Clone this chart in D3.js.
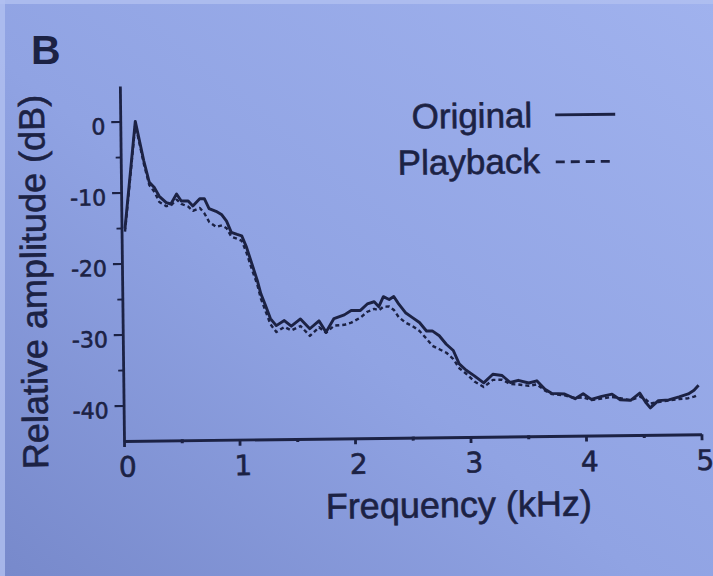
<!DOCTYPE html>
<html>
<head>
<meta charset="utf-8">
<script src="https://cdn.jsdelivr.net/npm/d3@7"></script>
<style>
  html, body { margin: 0; padding: 0; background: #93a6e4; }
  svg { display: block; }
</style>
</head>
<body>
<svg id="chart" width="713" height="576"></svg>
<script>
// ---- data ----
const freqKHz = [
  0.03, 0.13, 0.20, 0.245, 0.29, 0.33, 0.39, 0.43, 0.48, 0.52,
  0.58, 0.62, 0.68, 0.72, 0.76, 0.82, 0.87, 0.91, 0.95, 1.00,
  1.04, 1.08, 1.12, 1.17, 1.20, 1.24, 1.28, 1.33, 1.40, 1.46,
  1.54, 1.62, 1.70, 1.76, 1.83, 1.92, 1.98, 2.06, 2.12, 2.18,
  2.22, 2.26, 2.31, 2.35, 2.39, 2.45, 2.51, 2.57, 2.63, 2.68,
  2.74, 2.80, 2.86, 2.91, 2.97, 3.04, 3.12, 3.20, 3.28, 3.35,
  3.42, 3.51, 3.58, 3.65, 3.71, 3.82, 3.91, 3.98, 4.05, 4.14,
  4.23, 4.30, 4.39, 4.47, 4.52, 4.56, 4.63, 4.72, 4.81, 4.89, 4.94, 4.98
];
const originalDB = [
  -15.1, 0.0, -5.6, -8.6, -9.4, -10.6, -11.5, -11.7, -10.3, -11.3,
  -11.3, -12.0, -11.0, -11.0, -12.4, -12.8, -13.3, -14.2, -15.8, -16.1,
  -16.3, -17.9, -20.0, -22.6, -24.5, -26.2, -28.0, -29.0, -28.3, -29.1,
  -28.1, -29.5, -28.4, -30.0, -28.1, -27.6, -27.0, -27.0, -26.1, -25.8,
  -26.5, -25.1, -25.5, -25.1, -26.1, -27.4, -28.1, -28.8, -30.0, -30.0,
  -30.7, -31.9, -32.8, -34.7, -35.6, -36.4, -37.4, -36.2, -36.4, -37.4,
  -37.1, -37.5, -37.2, -38.4, -39.0, -39.1, -39.8, -39.1, -39.9, -39.5,
  -39.2, -40.0, -40.1, -39.1, -40.4, -41.2, -40.2, -40.1, -39.7, -39.3, -38.8, -38.1
];
const playbackDB = [
  -15.5, -0.4, -6.0, -9.0, -10.0, -11.4, -12.0, -11.9, -11.1, -11.7,
  -12.1, -12.7, -12.3, -13.1, -14.3, -15.0, -14.8, -15.2, -16.4, -16.7,
  -17.0, -18.7, -20.8, -23.2, -25.2, -27.0, -28.8, -29.9, -29.2, -29.7,
  -29.1, -30.5, -29.3, -30.1, -29.1, -29.0, -28.7, -28.0, -27.2, -26.8,
  -27.0, -26.5, -26.5, -27.0, -28.0, -28.8, -29.3, -30.0, -31.1, -32.1,
  -32.6, -33.1, -34.0, -35.3, -36.1, -37.2, -38.0, -37.0, -37.0, -37.6,
  -37.7, -37.9, -37.7, -38.6, -39.1, -39.3, -39.7, -39.6, -40.0, -39.8,
  -39.6, -39.8, -40.1, -39.6, -40.0, -40.6, -40.4, -40.2, -40.0, -39.9, -39.7, -39.4
];
const xTicks = [0, 1, 2, 3, 4, 5];
const xMinorTicks = [0.5, 1.5, 2.5, 3.5, 4.5];
const yTicks = [0, -10, -20, -30, -40];
const yMinorTicks = [-5, -15, -25, -35];
const seriesNames = ["Original", "Playback"];
const panelLetter = "B";
const xTitle = "Frequency (kHz)";
const yTitle = "Relative amplitude (dB)";

// ---- drawing ----
const ink = "#1c2244";
const svg = d3.select("#chart");

const defs = svg.append("defs");
const grad = defs.append("linearGradient").attr("id", "bg")
  .attr("x1", "1").attr("y1", "0").attr("x2", "0").attr("y2", "1");
grad.append("stop").attr("offset", "0%").attr("stop-color", "#a0b2ee");
grad.append("stop").attr("offset", "55%").attr("stop-color", "#90a3e3");
grad.append("stop").attr("offset", "100%").attr("stop-color", "#7789cb");
svg.append("rect").attr("width", 713).attr("height", 576).attr("fill", "url(#bg)");
svg.append("rect").attr("width", 5).attr("height", 576).attr("fill", "#b1c0f0").attr("opacity", 0.8);
svg.append("rect").attr("width", 713).attr("height", 4).attr("fill", "#b1c0f0").attr("opacity", 0.8);

svg.append("text").text(panelLetter)
  .attr("x", 31).attr("y", 64)
  .attr("font-family", "Liberation Sans, Arial, sans-serif")
  .attr("font-weight", "bold").attr("font-size", 41)
  .attr("fill", ink);

const ox = 124, oy = 441;
const g = svg.append("g").attr("transform", `rotate(-0.67 ${ox} ${oy})`);

const x = d3.scaleLinear().domain([0, 5]).range([ox, ox + 577.5]);
const y = d3.scaleLinear().domain([-45, 5]).range([oy, oy - 355]);

function thicken(sel, w) {
  sel.attr("stroke", ink).attr("stroke-width", w).attr("paint-order", "stroke");
}

// x axis
const xAxis = g.append("g").attr("transform", `translate(0,${oy})`)
  .call(d3.axisBottom(x).tickValues(xTicks).tickFormat(d3.format("d")).tickSize(6).tickSizeOuter(0));
xAxis.select(".domain").attr("stroke", ink).attr("stroke-width", 2.8);
xAxis.selectAll(".tick line").attr("stroke", ink).attr("stroke-width", 2.8);
xAxis.selectAll(".tick text").attr("fill", ink)
  .attr("font-family", "DejaVu Sans, Verdana, sans-serif").attr("font-size", 28)
  .attr("dx", 3).attr("dy", "0.95em").call(thicken, 0.6);
const xMinor = g.append("g").attr("transform", `translate(0,${oy})`)
  .call(d3.axisBottom(x).tickValues(xMinorTicks).tickFormat("").tickSize(3).tickSizeOuter(0));
xMinor.select(".domain").remove();
xMinor.selectAll(".tick line").attr("stroke", ink).attr("stroke-width", 3).attr("y1", -1);

// y axis
const yAxis = g.append("g").attr("transform", `translate(${ox},0)`)
  .call(d3.axisLeft(y).tickValues(yTicks).tickFormat(d3.format("d")).tickSize(9).tickSizeOuter(0));
yAxis.select(".domain").attr("stroke", ink).attr("stroke-width", 2.8);
yAxis.selectAll(".tick line").attr("stroke", ink).attr("stroke-width", 2.2);
yAxis.selectAll(".tick text").attr("fill", ink)
  .attr("font-family", "DejaVu Sans, Verdana, sans-serif").attr("font-size", 22)
  .attr("x", -15).attr("dy", "0.55em")
  .text(d => d < 0 ? "-" + Math.abs(d) : d).call(thicken, 0.6);
const yMinor = g.append("g").attr("transform", `translate(${ox},0)`)
  .call(d3.axisLeft(y).tickValues(yMinorTicks).tickFormat("").tickSize(5).tickSizeOuter(0));
yMinor.select(".domain").remove();
yMinor.selectAll(".tick line").attr("stroke", ink).attr("stroke-width", 1.8);

// axis titles
g.append("text").text(xTitle)
  .attr("x", 458).attr("y", 521).attr("text-anchor", "middle")
  .attr("font-family", "Liberation Sans, Arial, sans-serif").attr("font-size", 36)
  .attr("fill", ink).call(thicken, 0.6);
g.append("text").text(yTitle)
  .attr("transform", `translate(48,281) rotate(-90)`).attr("text-anchor", "middle")
  .attr("font-family", "Liberation Sans, Arial, sans-serif").attr("font-size", 36)
  .attr("fill", ink).call(thicken, 0.6);

// lines
const origPts = freqKHz.map((f, i) => [f, originalDB[i]]);
const playPts = freqKHz.map((f, i) => [f, playbackDB[i]]);
const line = d3.line().x(d => x(d[0])).y(d => y(d[1]));

g.append("path").datum(playPts).attr("d", line)
  .attr("fill", "none").attr("stroke", ink).attr("stroke-width", 2.4)
  .attr("stroke-dasharray", "4,3").attr("stroke-linejoin", "round");
g.append("path").datum(origPts).attr("d", line)
  .attr("fill", "none").attr("stroke", ink).attr("stroke-width", 2.9)
  .attr("stroke-linejoin", "round");

// legend
const legend = g.append("g");
const legRows = [
  { name: seriesNames[0], tx: 536, ty: 132, ly: 120, dash: null },
  { name: seriesNames[1], tx: 543, ty: 178, ly: 167, dash: "9,6" }
];
legRows.forEach(r => {
  legend.append("text").text(r.name)
    .attr("x", r.tx).attr("y", r.ty).attr("text-anchor", "end")
    .attr("font-family", "Liberation Sans, Arial, sans-serif").attr("font-size", 35)
    .attr("fill", ink).call(thicken, 0.6);
  legend.append("line")
    .attr("x1", 559).attr("x2", 619).attr("y1", r.ly).attr("y2", r.ly)
    .attr("stroke", ink).attr("stroke-width", 2.8)
    .attr("stroke-dasharray", r.dash);
});
</script>
</body>
</html>
